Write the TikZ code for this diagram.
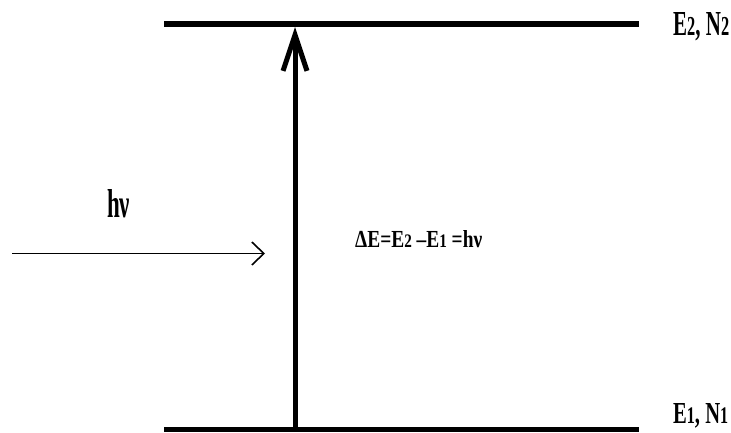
\documentclass[tikz,border=0pt]{standalone}
\usepackage{fontspec}
\setmainfont{Liberation Serif}
\usetikzlibrary{arrows.meta}
\newcommand{\lowdigit}[1]{\scalebox{0.78}{#1}}
\tikzset{
  level/.style={line width=5.5pt, draw=black},
  transition arrow/.style={-{Straight Barb[length=36pt,width=24pt]}, line width=5pt},
  photon arrow/.style={-{Straight Barb[length=12pt,width=23pt]}, line width=1.6pt},
  level label/.style={anchor=base west, inner sep=0pt, font=\bfseries}
}

\begin{document}
\begin{tikzpicture}[x=1pt,y=-1pt]
  \useasboundingbox (0,0) rectangle (731,432);
  % energy levels
  \coordinate (upperL) at (164,24);
  \coordinate (upperR) at (639,24);
  \coordinate (lowerL) at (164,429.5);
  \coordinate (lowerR) at (639,429.5);
  \draw[level] (upperL) -- (upperR);
  \draw[level] (lowerL) -- (lowerR);
  % absorption
  \coordinate (absorbFoot) at (295,429.5);
  \coordinate (absorbTip) at (295,27);
  \draw[transition arrow] (absorbFoot) -- (absorbTip);
  % incoming photon
  \coordinate (photonStart) at (12,253.5);
  \coordinate (photonEnd) at (265,253.5);
  \draw[photon arrow] (photonStart) -- (photonEnd);
  % labels
  \node[level label] (upperLabel) at (673,35)
    {\resizebox{56pt}{23pt}{E\lowdigit{2}, N\lowdigit{2}}};
  \node[level label] (lowerLabel) at (673,423)
    {\resizebox{55pt}{20pt}{E\lowdigit{1}, N\lowdigit{1}}};
  \node[level label] (photonLabel) at (107,217)
    {\resizebox{23pt}{28pt}{hν}};
  \node[level label] (gapLabel) at (355,247.3)
    {\resizebox{127pt}{17pt}{ΔE=E\lowdigit{2} –E\lowdigit{1} =hν}};
\end{tikzpicture}
\end{document}
